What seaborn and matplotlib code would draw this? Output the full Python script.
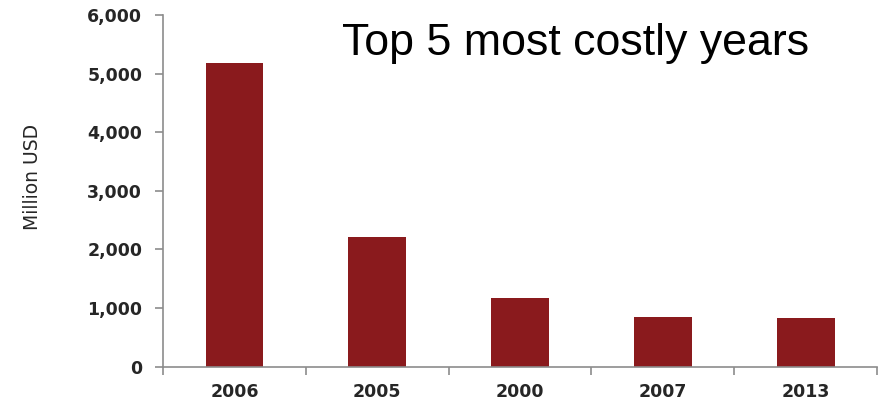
import matplotlib
matplotlib.use("Agg")
import matplotlib.pyplot as plt
import seaborn as sns
from matplotlib.ticker import FuncFormatter, FixedLocator

# Most costly years, losses in million USD
years = ["2006", "2005", "2000", "2007", "2013"]
losses = [5180, 2210, 1170, 850, 825]
y_ticks = [0, 1000, 2000, 3000, 4000, 5000, 6000]

bar_color = "#8a1a1d"
axis_color = "#8c8c8c"
text_color = "#262626"

sns.set_style("white")
plt.rcParams["font.family"] = ["DejaVu Sans"]

fig = plt.figure(figsize=(8.85, 4.04), dpi=100)
ax = fig.add_axes([0.1842, 0.0923, 0.8068, 0.8705])

sns.barplot(x=years, y=losses, order=years, color=bar_color,
            saturation=1, width=0.405, ax=ax, linewidth=0)

ax.set_xlim(-0.5, len(years) - 0.5)
ax.set_ylim(0, 6000)
ax.set_yticks(y_ticks)
ax.yaxis.set_major_formatter(FuncFormatter(lambda v, p: f"{int(v):,}"))

# category boundaries carry the x tick marks, labels sit at centres
ax.xaxis.set_minor_locator(FixedLocator([i - 0.5 for i in range(len(years) + 1)]))
ax.tick_params(axis="x", which="major", bottom=True, length=0, pad=12,
               labelsize=12.5, labelcolor=text_color)
ax.tick_params(axis="x", which="minor", bottom=True, length=5.5, width=1.2,
               color=axis_color, direction="out")
ax.tick_params(axis="y", which="major", left=True, length=6, width=1.2,
               color=axis_color, pad=9, labelsize=12.5, labelcolor=text_color)
for lab in ax.get_xticklabels() + ax.get_yticklabels():
    lab.set_fontweight("bold")

for side in ("top", "right"):
    ax.spines[side].set_visible(False)
for side in ("left", "bottom"):
    ax.spines[side].set_color(axis_color)
    ax.spines[side].set_linewidth(1.2)

ax.set_xlabel("")
ax.set_ylabel("Million USD", fontsize=13.5, color=text_color)
ax.yaxis.set_label_coords(-0.170, 0.54)

fig.text(342 / 885, 1 - 55 / 404, "Top 5 most costly years",
         family=["Liberation Sans", "DejaVu Sans"], fontsize=32.2,
         color="black", va="baseline", ha="left")

fig.savefig("out.png", dpi=100)
